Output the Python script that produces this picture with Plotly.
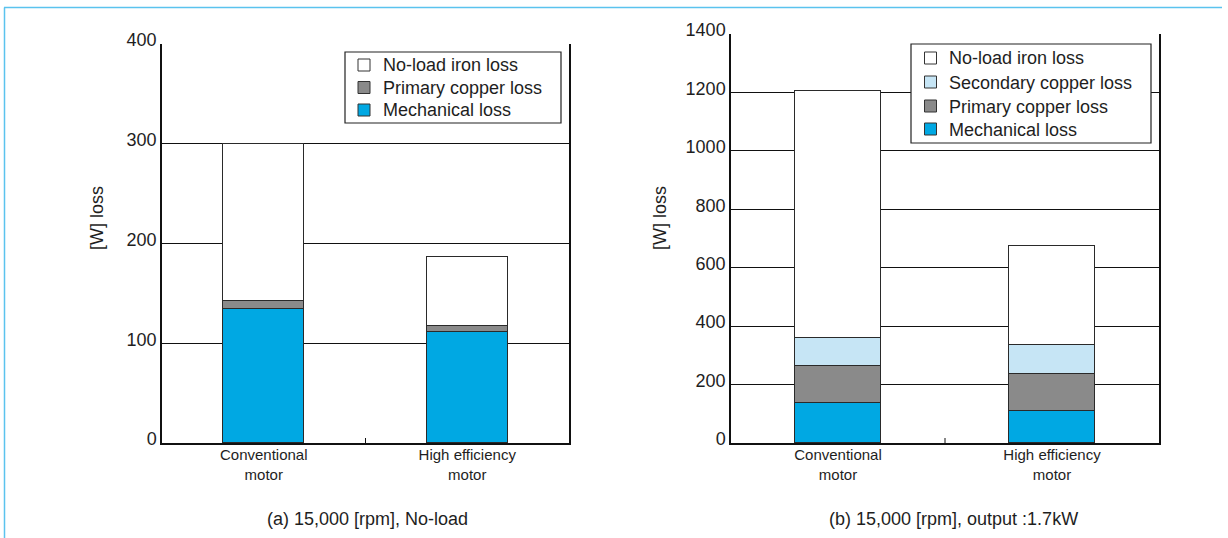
import plotly.graph_objects as go

# Motor categories and loss components [W]
categories = ["Conventional<br>motor", "High efficiency<br>motor"]

# (a) 15,000 rpm, no-load
noload_mech = [134, 111]
noload_primary_cu = [8, 6]
noload_iron = [158, 69]

# (b) 15,000 rpm, output 1.7 kW
load_mech = [136, 109]
load_primary_cu = [127, 126]
load_secondary_cu = [98, 99]
load_iron = [845, 339]

left_ticks = [0, 100, 200, 300, 400]
right_ticks = [0, 200, 400, 600, 800, 1000, 1200, 1400]

NAMES = {
    "iron": "No-load iron loss",
    "sec": "Secondary copper loss",
    "pri": "Primary copper loss",
    "mech": "Mechanical loss",
}
COLORS = {
    "mech": "#00A8E3",
    "pri": "#8A8A8A",
    "sec": "#C6E5F5",
    "iron": "#FFFFFF",
}
EDGE = dict(color="#2a2a2a", width=1.3)
FONT = "Liberation Sans, Arial, sans-serif"
INK = "#1e1e1e"
W, H = 1228, 538

xpos = [0, 1]
fig = go.Figure()


def px_x(p):
    return p / W


def px_y(p):
    return 1 - p / H


def add_bar(y, key, xa, ya):
    fig.add_trace(go.Bar(
        x=xpos, y=y, name=NAMES[key],
        marker=dict(color=COLORS[key], line=EDGE),
        width=0.4, xaxis=xa, yaxis=ya, showlegend=False,
    ))


add_bar(noload_mech, "mech", "x", "y")
add_bar(noload_primary_cu, "pri", "x", "y")
add_bar(noload_iron, "iron", "x", "y")

add_bar(load_mech, "mech", "x2", "y2")
add_bar(load_primary_cu, "pri", "x2", "y2")
add_bar(load_secondary_cu, "sec", "x2", "y2")
add_bar(load_iron, "iron", "x2", "y2")

xaxis_common = dict(
    range=[-0.5, 1.5], tickvals=xpos, ticktext=categories,
    showgrid=False, zeroline=False, showline=True, linecolor="#111",
    linewidth=2, mirror=False, ticks="", fixedrange=True, automargin=False,
    ticklabelstandoff=-3,
    tickfont=dict(family=FONT, size=15, color=INK),
)
yaxis_common = dict(
    showgrid=True, gridcolor="#111", gridwidth=1, zeroline=False,
    showline=True, linecolor="#111", linewidth=1.5, mirror=True,
    ticks="", automargin=False, fixedrange=True, ticklabelshift=-4,
    tickfont=dict(family=FONT, size=18, color=INK),
)

fig.update_layout(
    template="none",
    width=W, height=H, margin=dict(l=0, r=0, t=0, b=0, pad=0, autoexpand=False),
    paper_bgcolor="white", plot_bgcolor="white",
    barmode="stack", bargap=0, showlegend=False,
    xaxis=dict(domain=[px_x(162), px_x(569)], anchor="y", **xaxis_common),
    yaxis=dict(domain=[px_y(443), px_y(44)], anchor="x", range=[0, 400],
               tickvals=left_ticks, **yaxis_common),
    xaxis2=dict(domain=[px_x(731), px_x(1159)], anchor="y2", **xaxis_common),
    yaxis2=dict(domain=[px_y(443), px_y(34)], anchor="x2", range=[0, 1400],
                tickvals=right_ticks, **yaxis_common),
    font=dict(family=FONT, color=INK),
)

# Small centre tick on each category axis
for xa, ya in (("x", "y"), ("x2", "y2")):
    fig.add_shape(type="line", xref=xa, yref=ya, x0=0.5, x1=0.5,
                  ysizemode="pixel", yanchor=0, y0=0, y1=5,
                  line=dict(color="#111", width=1))


# Legend boxes: (box left, top, right, bottom), swatch x, text x, row centres
def draw_legend(box, sw_x, txt_x, rows):
    l, t, r, b = box
    fig.add_shape(type="rect", xref="paper", yref="paper",
                  x0=px_x(l), x1=px_x(r), y0=px_y(b), y1=px_y(t),
                  fillcolor="white", line=dict(color="#222", width=1.2))
    for key, yc in rows:
        fig.add_shape(type="rect", xref="paper", yref="paper",
                      x0=px_x(sw_x), x1=px_x(sw_x + 12),
                      y0=px_y(yc + 6), y1=px_y(yc - 6),
                      fillcolor=COLORS[key], line=dict(color="#333", width=1))
        fig.add_annotation(text=NAMES[key], xref="paper", yref="paper",
                           x=px_x(txt_x), y=px_y(yc + 0.5), xanchor="left",
                           yanchor="middle", showarrow=False,
                           font=dict(family=FONT, size=18, color=INK))


draw_legend((345, 52, 561, 123), 358, 381,
            [("iron", 65), ("pri", 87.5), ("mech", 110)])
draw_legend((911, 44, 1151, 143), 924.5, 947,
            [("iron", 58), ("sec", 82), ("pri", 106), ("mech", 129)])

# Axis titles and panel captions
for xc in (97, 660):
    fig.add_annotation(text="[W] loss", xref="paper", yref="paper",
                       x=px_x(xc), y=px_y(218), xanchor="center", yanchor="middle",
                       showarrow=False, textangle=-90,
                       font=dict(family=FONT, size=18, color=INK))
fig.add_annotation(text="(a) 15,000 [rpm], No-load", xref="paper", yref="paper",
                   x=px_x(367.5), y=px_y(519), xanchor="center", yanchor="middle",
                   showarrow=False, font=dict(family=FONT, size=18, color=INK))
fig.add_annotation(text="(b) 15,000 [rpm], output :1.7kW", xref="paper", yref="paper",
                   x=px_x(953), y=px_y(519), xanchor="center", yanchor="middle",
                   showarrow=False, font=dict(family=FONT, size=18, color=INK))

# Light blue frame around the figure
fig.add_shape(type="line", xref="paper", yref="paper",
              x0=px_x(4), x1=px_x(1222), y0=px_y(7.5), y1=px_y(7.5),
              line=dict(color="#5BC3EE", width=1.5))
fig.add_shape(type="line", xref="paper", yref="paper",
              x0=px_x(4.5), x1=px_x(4.5), y0=px_y(7.5), y1=0,
              line=dict(color="#5BC3EE", width=1.5))

fig.write_html(
    "out.html",
    config={"responsive": False, "displayModeBar": False},
    post_script="document.body.style.margin='0';document.body.style.overflow='hidden';",
)
